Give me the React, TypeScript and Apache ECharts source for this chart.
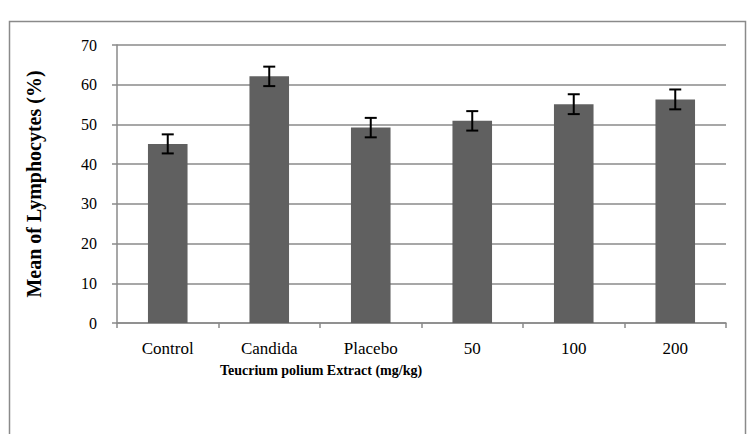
import React, { useEffect, useRef } from "react";
import * as echarts from "echarts";

const categories = ["Control", "Candida", "Placebo", "50", "100", "200"];
const means = [45.1, 62.1, 49.2, 50.9, 55.1, 56.3];
const errors = [2.4, 2.45, 2.45, 2.45, 2.5, 2.5];
const yTicks = { min: 0, max: 70, interval: 10 };
const yTitle = "Mean of Lymphocytes (%)";
const xTitle = "Teucrium polium Extract (mg/kg)";

const SERIF = "'Liberation Serif', 'DejaVu Serif', serif";

export default function App() {
  const ref = useRef<HTMLDivElement>(null);
  useEffect(() => {
    if (!ref.current) return;
    const chart = echarts.init(ref.current, null, { renderer: "svg" });
    const grey = "#8a8a8a";
    const errData = categories.map((c, i) => [i, means[i] - errors[i], means[i] + errors[i]]);
    chart.setOption({
      animation: false,
      backgroundColor: "#ffffff",
      textStyle: { fontFamily: SERIF },
      grid: { left: 117, right: 23, top: 45, bottom: 111, containLabel: false },
      graphic: [
        {
          type: "rect",
          shape: { x: 9.5, y: 21.5, width: 736, height: 420 },
          style: { fill: "none", stroke: grey, lineWidth: 1.5 },
          silent: true,
        },
        {
          type: "text",
          left: 220,
          top: 363,
          style: {
            text: xTitle,
            fontFamily: SERIF,
            fontWeight: "bold",
            fontSize: 14,
            fill: "#000",
          },
        },
      ],
      xAxis: {
        type: "category",
        data: categories,
        boundaryGap: true,
        axisLine: { show: true, lineStyle: { color: grey, width: 1.5 } },
        axisTick: { show: true, length: 5, alignWithLabel: false, lineStyle: { color: grey, width: 1.5 } },
        axisLabel: {
          margin: 17,
          fontFamily: SERIF,
          fontSize: 17,
          color: "#000",
        },
        splitLine: { show: false },
      },
      yAxis: {
        type: "value",
        min: yTicks.min,
        max: yTicks.max,
        interval: yTicks.interval,
        name: yTitle,
        nameLocation: "middle",
        nameGap: 73,
        nameTextStyle: {
          fontFamily: SERIF,
          fontWeight: "bold",
          fontSize: 20,
          color: "#000",
        },
        axisLine: { show: true, lineStyle: { color: grey, width: 1.5 } },
        axisTick: { show: true, length: 5, lineStyle: { color: grey, width: 1.5 } },
        axisLabel: {
          margin: 20,
          fontFamily: SERIF,
          fontSize: 16,
          color: "#000",
          padding: [0, 0, 10, 0],
        },
        splitLine: { show: true, lineStyle: { color: grey, width: 1.5 } },
      },
      series: [
        {
          type: "bar",
          data: means,
          barWidth: "39%",
          itemStyle: { color: "#606060" },
        },
        {
          type: "custom",
          data: errData,
          z: 10,
          renderItem: (params: any, api: any) => {
            const x = api.value(0);
            const lo = api.coord([x, api.value(1)]);
            const hi = api.coord([x, api.value(2)]);
            const half = 6;
            const style = { stroke: "#000", lineWidth: 2 };
            return {
              type: "group",
              children: [
                { type: "line", shape: { x1: hi[0], y1: hi[1], x2: lo[0], y2: lo[1] }, style },
                { type: "line", shape: { x1: hi[0] - half, y1: hi[1], x2: hi[0] + half, y2: hi[1] }, style },
                { type: "line", shape: { x1: lo[0] - half, y1: lo[1], x2: lo[0] + half, y2: lo[1] }, style },
              ],
            };
          },
        },
      ],
    });
    return () => chart.dispose();
  }, []);
  return (
    <div
      ref={ref}
      style={{ position: "absolute", left: 0, top: 0, width: 749, height: 434 }}
    />
  );
}
